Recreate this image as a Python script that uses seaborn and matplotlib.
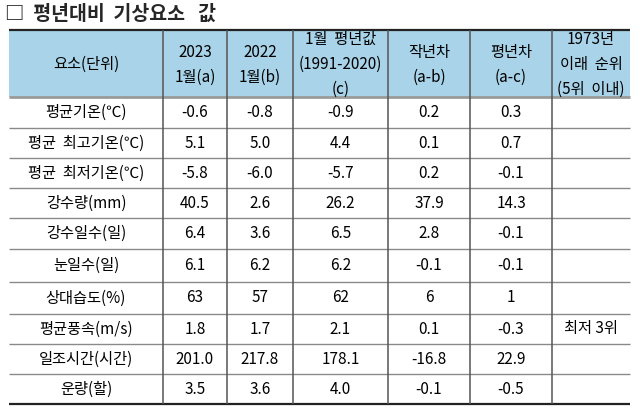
"""평년대비 기상요소 값 표 재현"""

import matplotlib
matplotlib.use('Agg')
import matplotlib.pyplot as plt
import seaborn as sns

sns.set_theme(style='white')
plt.rcParams['font.family'] = ['Noto Sans CJK KR', 'DejaVu Sans']
plt.rcParams['axes.unicode_minus'] = False

# 데이터
title = '□  평년대비  기상요소   값'
headers = ['요소(단위)', '2023\n1월(a)', '2022\n1월(b)', '1월  평년값\n(1991-2020)\n(c)',
           '작년차\n(a-b)', '평년차\n(a-c)', '1973년\n이래  순위\n(5위  이내)']
elements = ['평균기온(℃)', '평균  최고기온(℃)', '평균  최저기온(℃)', '강수량(mm)', '강수일수(일)',
            '눈일수(일)', '상대습도(%)', '평균풍속(m/s)', '일조시간(시간)', '운량(할)']
jan_2023 = [-0.6, 5.1, -5.8, 40.5, 6.4, 6.1, 63, 1.8, 201.0, 3.5]
jan_2022 = [-0.8, 5.0, -6.0, 2.6, 3.6, 6.2, 57, 1.7, 217.8, 3.6]
normal = [-0.9, 4.4, -5.7, 26.2, 6.5, 6.2, 62, 2.1, 178.1, 4.0]
diff_prev = [0.2, 0.1, 0.2, 37.9, 2.8, -0.1, 6, 0.1, -16.8, -0.1]
diff_normal = [0.3, 0.7, -0.1, 14.3, -0.1, -0.1, 1, -0.3, 22.9, -0.5]
decimals = [1, 1, 1, 1, 1, 1, 0, 1, 1, 1]
rank = ['', '', '', '', '', '', '', '최저 3위', '', '']

# 레이아웃 (픽셀 좌표)
col_edges = [9, 163, 227, 293, 388, 470, 552, 630]
row_edges = [30, 97, 128, 158, 188, 218, 249, 282, 314, 344, 374, 404]
header_color = '#A8D3E8'
fs = 11

fig = plt.figure(figsize=(6.4, 4.18), dpi=100)
ax = fig.add_axes([0, 0, 1, 1])
ax.set_xlim(0, 640)
ax.set_ylim(418, 0)
ax.axis('off')

# 제목
ax.text(5, 14, title, fontsize=14, fontweight='bold', ha='left', va='center')

# 헤더 배경
ax.fill_between([col_edges[0], col_edges[-1]], row_edges[0], row_edges[1],
                color=header_color, lw=0)

# 헤더 텍스트
for j, h in enumerate(headers):
    xc = (col_edges[j] + col_edges[j + 1]) / 2
    yc = (row_edges[0] + row_edges[1]) / 2 + 1
    ax.text(xc, yc, h, ha='center', va='center', fontsize=fs,
            linespacing=1.6, color='black')

# 본문
for i, name in enumerate(elements):
    yc = (row_edges[i + 1] + row_edges[i + 2]) / 2
    fmt = '{:.%df}' % decimals[i]
    values = [name, fmt.format(jan_2023[i]), fmt.format(jan_2022[i]), fmt.format(normal[i]),
              fmt.format(diff_prev[i]), fmt.format(diff_normal[i]), rank[i]]
    for j, v in enumerate(values):
        xc = (col_edges[j] + col_edges[j + 1]) / 2
        ax.text(xc, yc, v, ha='center', va='center', fontsize=fs, color='black')

# 선
ax.hlines(row_edges[0], col_edges[0], col_edges[-1], color='#222222', lw=1.6)
ax.hlines(row_edges[1], col_edges[0], col_edges[-1], color='#9a9a9a', lw=2.0)
ax.hlines(row_edges[2:-1], col_edges[0], col_edges[-1], color='#8a8a8a', lw=1.0)
ax.hlines(row_edges[-1], col_edges[0], col_edges[-1], color='#222222', lw=1.6)
ax.vlines(col_edges[1:-1], row_edges[0], row_edges[-1], color='#555555', lw=1.1)

fig.savefig('out.png', dpi=100)
plt.close(fig)
